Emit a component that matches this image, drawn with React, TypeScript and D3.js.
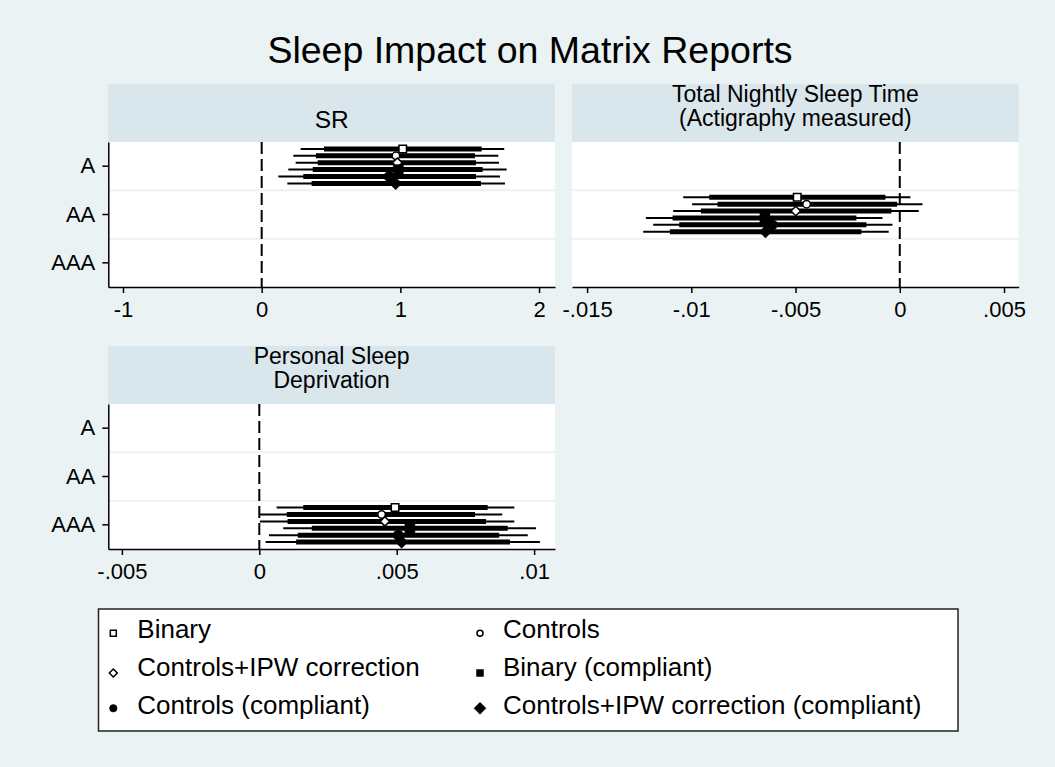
import React, { useEffect, useRef } from "react";
import * as d3 from "d3";

const categories = ["A", "AA", "AAA"];
const models = [
  "Binary",
  "Controls",
  "Controls+IPW correction",
  "Binary (compliant)",
  "Controls (compliant)",
  "Controls+IPW correction (compliant)",
];

// SR (category A)
const srPoint = [1.017, 0.968, 0.978, 0.985, 0.92, 0.966];
const srLow95 = [0.281, 0.228, 0.245, 0.192, 0.12, 0.185];
const srHigh95 = [1.749, 1.706, 1.711, 1.766, 1.718, 1.754];
const srLow90 = [0.449, 0.391, 0.404, 0.368, 0.3, 0.36];
const srHigh90 = [1.586, 1.538, 1.545, 1.593, 1.545, 1.581];
const srTicks = [-1, 0, 1, 2];
const srTickLabels = ["-1", "0", "1", "2"];

// Total nightly sleep time (category AA)
const tnstPoint = [-0.00492, -0.00447, -0.00499, -0.00647, -0.00612, -0.00644];
const tnstLow95 = [-0.01039, -0.00996, -0.01087, -0.01218, -0.01183, -0.01231];
const tnstHigh95 = [0.00051, 0.00109, 0.00091, -0.00083, -0.00035, -0.00053];
const tnstLow90 = [-0.00914, -0.00874, -0.00954, -0.0109, -0.01058, -0.01103];
const tnstHigh90 = [-0.00069, -0.00013, -0.0004, -0.00208, -0.0016, -0.00184];
const tnstTicks = [-0.015, -0.01, -0.005, 0, 0.005];
const tnstTickLabels = ["-.015", "-.01", "-.005", "0", ".005"];

// Personal sleep deprivation (category AAA)
const psdPoint = [0.00494, 0.00445, 0.00457, 0.00548, 0.00506, 0.00518];
const psdLow95 = [0.00063, 0.00002, 0.00002, 0.00087, 0.00035, 0.00023];
const psdHigh95 = [0.00928, 0.00884, 0.00928, 0.01007, 0.00977, 0.01021];
const psdLow90 = [0.0016, 0.001, 0.00103, 0.00191, 0.0014, 0.00134];
const psdHigh90 = [0.00831, 0.00785, 0.00825, 0.00904, 0.00873, 0.00912];
const psdTicks = [-0.005, 0, 0.005, 0.01];
const psdTickLabels = ["-.005", "0", ".005", ".01"];

const FONT = "'Liberation Sans', Arial, Helvetica, sans-serif";
const BG = "#eaf2f3";
const STRIP = "#d9e6eb";

type Shape = "square" | "circle" | "diamond";
const markerStyle: { shape: Shape; filled: boolean; plot: number; legend: number }[] = [
  { shape: "square", filled: false, plot: 7.5, legend: 6 },
  { shape: "circle", filled: false, plot: 7.5, legend: 6 },
  { shape: "diamond", filled: false, plot: 9.5, legend: 8 },
  { shape: "square", filled: true, plot: 10, legend: 7 },
  { shape: "circle", filled: true, plot: 10.5, legend: 7.5 },
  { shape: "diamond", filled: true, plot: 12.5, legend: 12 },
];

const symbolRhombus = {
  draw(ctx: any, size: number) {
    const h = Math.sqrt(size / 2);
    ctx.moveTo(0, -h);
    ctx.lineTo(h, 0);
    ctx.lineTo(0, h);
    ctx.lineTo(-h, 0);
    ctx.closePath();
  },
};

function markerPath(shape: Shape, dim: number) {
  if (shape === "square") return d3.symbol().type(d3.symbolSquare).size(dim * dim)()!;
  if (shape === "circle") return d3.symbol().type(d3.symbolCircle).size(Math.PI * (dim / 2) ** 2)()!;
  return d3.symbol().type(symbolRhombus as any).size(2 * (dim / 2) ** 2)()!;
}

type Panel = {
  title: string[];
  category: string;
  point: number[];
  lo95: number[];
  hi95: number[];
  lo90: number[];
  hi90: number[];
  domain: [number, number];
  ticks: number[];
  tickLabels: string[];
  left: number;
  top: number;
  yAxis: boolean;
};

const panels: Panel[] = [
  {
    title: ["SR"],
    category: "A",
    point: srPoint,
    lo95: srLow95,
    hi95: srHigh95,
    lo90: srLow90,
    hi90: srHigh90,
    domain: [-1.106, 2.115],
    ticks: srTicks,
    tickLabels: srTickLabels,
    left: 108.3,
    top: 84,
    yAxis: true,
  },
  {
    title: ["Total Nightly Sleep Time", "(Actigraphy measured)"],
    category: "AA",
    point: tnstPoint,
    lo95: tnstLow95,
    hi95: tnstHigh95,
    lo90: tnstLow90,
    hi90: tnstHigh90,
    domain: [-0.015724, 0.005705],
    ticks: tnstTicks,
    tickLabels: tnstTickLabels,
    left: 572,
    top: 84,
    yAxis: false,
  },
  {
    title: ["Personal Sleep", "Deprivation"],
    category: "AAA",
    point: psdPoint,
    lo95: psdLow95,
    hi95: psdHigh95,
    lo90: psdLow90,
    hi90: psdHigh90,
    domain: [-0.005495, 0.01076],
    ticks: psdTicks,
    tickLabels: psdTickLabels,
    left: 108.3,
    top: 346,
    yAxis: true,
  },
];

const App: React.FC = () => {
  const svgRef = useRef<SVGSVGElement | null>(null);

  useEffect(() => {
    document.body.style.margin = "0";
    if (!svgRef.current) return;
    const width = 1055;
    const height = 767;
    const svg = d3.select(svgRef.current);
    svg.selectAll("*").remove();
    svg.attr("width", width).attr("height", height).style("font-family", FONT);

    svg.append("rect").attr("width", width).attr("height", height).attr("fill", BG);

    svg
      .append("text")
      .attr("x", 530)
      .attr("y", 63)
      .attr("text-anchor", "middle")
      .attr("font-size", 37.5)
      .attr("fill", "#000")
      .text("Sleep Impact on Matrix Reports");

    const panelW = 446.7;
    const headerH = 58;
    const plotH = 145;

    panels.forEach((p) => {
      const g = svg.append("g");
      const plotTop = p.top + headerH;
      const plotBottom = plotTop + plotH;
      const x = d3.scaleLinear().domain(p.domain).range([p.left, p.left + panelW]);
      const y = d3.scaleBand<string>().domain(categories).range([plotTop, plotBottom]).padding(0);
      const bw = y.bandwidth();

      // header strip
      g.append("rect")
        .attr("x", p.left)
        .attr("y", p.top)
        .attr("width", panelW)
        .attr("height", headerH)
        .attr("fill", STRIP);
      const cx = p.left + panelW / 2;
      const multi = p.title.length > 1;
      const firstY = multi ? p.top + 18 : p.top + 43.5;
      p.title.forEach((t, i) => {
        g.append("text")
          .attr("x", cx)
          .attr("y", firstY + i * 24.2)
          .attr("text-anchor", "middle")
          .attr("font-size", multi ? 23 : 24.5)
          .attr("fill", "#000")
          .text(t);
      });

      // plot region
      g.append("rect")
        .attr("x", p.left)
        .attr("y", plotTop)
        .attr("width", panelW)
        .attr("height", plotH)
        .attr("fill", "#fff");

      // grid lines between categories
      categories.slice(1).forEach((c) => {
        g.append("line")
          .attr("x1", p.left)
          .attr("x2", p.left + panelW)
          .attr("y1", y(c)!)
          .attr("y2", y(c)!)
          .attr("stroke", BG)
          .attr("stroke-width", 2);
      });

      // zero reference line
      g.append("line")
        .attr("x1", x(0))
        .attr("x2", x(0))
        .attr("y1", plotTop)
        .attr("y2", plotBottom)
        .attr("stroke", "#000")
        .attr("stroke-width", 2)
        .attr("stroke-dasharray", "12,5");

      // estimates
      const cy = y(p.category)! + bw / 2;
      models.forEach((_, i) => {
        const yy = cy + ((i - 2.5) / 7) * bw;
        g.append("line")
          .attr("x1", x(p.lo95[i]))
          .attr("x2", x(p.hi95[i]))
          .attr("y1", yy)
          .attr("y2", yy)
          .attr("stroke", "#000")
          .attr("stroke-width", 2);
        g.append("line")
          .attr("x1", x(p.lo90[i]))
          .attr("x2", x(p.hi90[i]))
          .attr("y1", yy)
          .attr("y2", yy)
          .attr("stroke", "#000")
          .attr("stroke-width", 5);
        const m = markerStyle[i];
        g.append("path")
          .attr("d", markerPath(m.shape, m.plot))
          .attr("transform", `translate(${x(p.point[i])},${yy})`)
          .attr("fill", m.filled ? "#000" : "#fff")
          .attr("stroke", "#000")
          .attr("stroke-width", m.filled ? 0.5 : 1.5);
      });

      // x axis
      const xa = g
        .append("g")
        .attr("transform", `translate(0,${plotBottom})`)
        .call(
          d3
            .axisBottom(x)
            .tickValues(p.ticks)
            .tickFormat((_, i) => p.tickLabels[i])
            .tickSize(6)
            .tickSizeOuter(0)
            .tickPadding(8)
        );
      xa.select(".domain").attr("stroke-width", 1.5);
      xa.selectAll(".tick line").attr("stroke-width", 1.5);
      xa.selectAll("text").attr("font-size", 22).attr("font-family", FONT).attr("fill", "#000");

      if (p.yAxis) {
        const ya = g
          .append("g")
          .attr("transform", `translate(${p.left},0)`)
          .call(d3.axisLeft(y).tickSize(6).tickSizeOuter(0).tickPadding(7));
        ya.select(".domain").attr("stroke-width", 1.5);
        ya.selectAll(".tick line").attr("stroke-width", 1.5);
        ya.selectAll("text").attr("font-size", 22).attr("font-family", FONT).attr("fill", "#000");
      }
    });

    // legend
    const lg = svg.append("g");
    lg.append("rect")
      .attr("x", 98.5)
      .attr("y", 609)
      .attr("width", 859.5)
      .attr("height", 122)
      .attr("fill", "#fff")
      .attr("stroke", "#222")
      .attr("stroke-width", 1.5);
    const colMarker = [113.3, 480];
    const colText = [137.3, 503];
    const rowBase = [638, 676, 713.5];
    const rowMarker = [633.3, 673, 708.3];
    models.forEach((name, i) => {
      const col = i % 2;
      const row = Math.floor(i / 2);
      const m = markerStyle[i];
      lg.append("path")
        .attr("d", markerPath(m.shape, m.legend))
        .attr("transform", `translate(${colMarker[col]},${rowMarker[row]})`)
        .attr("fill", m.filled ? "#000" : "#fff")
        .attr("stroke", "#000")
        .attr("stroke-width", m.filled ? 0.5 : 1.5);
      lg.append("text")
        .attr("x", colText[col])
        .attr("y", rowBase[row])
        .attr("font-size", 26)
        .attr("fill", "#000")
        .text(name);
    });
  }, []);

  return <svg ref={svgRef} style={{ display: "block" }} />;
};

export default App;
